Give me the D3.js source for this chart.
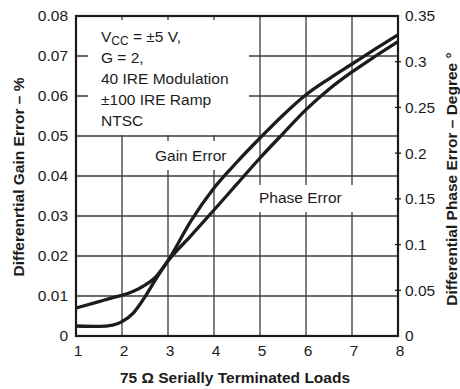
<!DOCTYPE html>
<html>
<head>
<meta charset="utf-8">
<script src="https://cdn.jsdelivr.net/npm/d3@7"></script>
<style>
  html, body { margin: 0; padding: 0; background: #fff; }
  svg { display: block; font-family: "Liberation Sans", Arial, sans-serif; }
</style>
</head>
<body>
<svg id="chart" width="460" height="389"></svg>
<script>
// Number of 75-ohm serially terminated loads
const loads = [1, 1.5, 1.8, 2, 2.25, 2.5, 2.75, 3, 3.5, 4, 4.5, 5, 5.5, 6, 6.5, 7, 7.5, 8];
// Differential gain error, % (left axis)
const gainError = [0.0025, 0.0024, 0.0027, 0.0036, 0.0058, 0.0098, 0.0145, 0.0188, 0.0288, 0.0370,
                   0.0435, 0.0495, 0.0552, 0.0603, 0.0643, 0.0680, 0.0717, 0.0753];
// Differential phase error, degrees (right axis)
const phaseError = [0.0306, 0.0376, 0.0420, 0.0446, 0.0490, 0.0556, 0.0656, 0.0823, 0.1098, 0.1378,
                    0.1663, 0.1947, 0.2214, 0.2476, 0.2699, 0.2888, 0.3058, 0.3220];

const xTicks = [1, 2, 3, 4, 5, 6, 7, 8];
const gainTicks = [0, 0.01, 0.02, 0.03, 0.04, 0.05, 0.06, 0.07, 0.08];
const gainTickLabels = ["0", "0.01", "0.02", "0.03", "0.04", "0.05", "0.06", "0.07", "0.08"];
const phaseTicks = [0, 0.05, 0.1, 0.15, 0.2, 0.25, 0.3, 0.35];
const phaseTickLabels = ["0", "0.05", "0.1", "0.15", "0.2", "0.25", "0.3", "0.35"];

const conditions = ["G = 2,", "40 IRE Modulation", "±100 IRE Ramp", "NTSC"];

const svg = d3.select("#chart");
const m = { left: 76, right: 398, top: 16, bottom: 336 };

const x = d3.scaleLinear().domain([1, 8]).range([m.left, m.right]);
const yGain = d3.scaleLinear().domain([0, 0.08]).range([m.bottom, m.top]);
const yPhase = d3.scaleLinear().domain([0, 0.35]).range([m.bottom, m.top]);

const gridColor = "#3a3a3a";
const ink = "#1c1c1c";

// grid
const grid = svg.append("g").attr("stroke", gridColor).attr("stroke-width", 1.3);
grid.selectAll("line.v").data(xTicks.slice(1, -1)).join("line")
  .attr("class", "v")
  .attr("x1", d => x(d)).attr("x2", d => x(d))
  .attr("y1", m.top).attr("y2", m.bottom);
grid.selectAll("line.h").data(gainTicks.slice(1, -1)).join("line")
  .attr("class", "h")
  .attr("x1", m.left).attr("x2", m.right)
  .attr("y1", d => yGain(d)).attr("y2", d => yGain(d));

// white panels behind the annotations
const panels = [
  { x0: 88, y0: 20, x1: 249, y1: 135 },
  { x0: 146, y0: 141, x1: 240, y1: 170 },
  { x0: 251, y0: 185, x1: 364, y1: 212 }
];
svg.append("g").selectAll("rect").data(panels).join("rect")
  .attr("x", d => d.x0).attr("y", d => d.y0)
  .attr("width", d => d.x1 - d.x0).attr("height", d => d.y1 - d.y0)
  .attr("fill", "#fff");

// frame
svg.append("rect")
  .attr("x", m.left).attr("y", m.top)
  .attr("width", m.right - m.left).attr("height", m.bottom - m.top)
  .attr("fill", "none").attr("stroke", ink).attr("stroke-width", 2.2);

// right axis cross ticks
svg.append("g").selectAll("line").data(phaseTicks.slice(1, -1)).join("line")
  .attr("x1", m.right - 3).attr("x2", m.right + 3)
  .attr("y1", d => yPhase(d)).attr("y2", d => yPhase(d))
  .attr("stroke", ink).attr("stroke-width", 1.3);

// curves
const gainLine = d3.line().x((d, i) => x(loads[i])).y(d => yGain(d)).curve(d3.curveMonotoneX);
const phaseLine = d3.line().x((d, i) => x(loads[i])).y(d => yPhase(d)).curve(d3.curveMonotoneX);
svg.append("path").datum(phaseError).attr("d", phaseLine)
  .attr("fill", "none").attr("stroke", ink).attr("stroke-width", 3.3).attr("stroke-linejoin", "round");
svg.append("path").datum(gainError).attr("d", gainLine)
  .attr("fill", "none").attr("stroke", ink).attr("stroke-width", 3.3).attr("stroke-linejoin", "round");

// axes labels
const tickFont = 15.5;
const leftAxis = d3.axisLeft(yGain).tickValues(gainTicks)
  .tickFormat((d, i) => gainTickLabels[i]).tickSize(0).tickPadding(8);
const gL = svg.append("g").attr("transform", `translate(${m.left},0)`).call(leftAxis);
const rightAxis = d3.axisRight(yPhase).tickValues(phaseTicks)
  .tickFormat((d, i) => phaseTickLabels[i]).tickSize(0).tickPadding(7);
const gR = svg.append("g").attr("transform", `translate(${m.right},0)`).call(rightAxis);
const bottomAxis = d3.axisBottom(x).tickValues(xTicks).tickFormat(d3.format("d")).tickSize(0).tickPadding(9);
const gB = svg.append("g").attr("transform", `translate(1.5,${m.bottom})`).call(bottomAxis);
[gL, gR, gB].forEach(g => {
  g.select(".domain").remove();
  g.selectAll("text").attr("font-size", tickFont).attr("fill", ink)
    .attr("font-family", "Liberation Sans, Arial, sans-serif");
});

// axis titles
svg.append("text")
  .attr("transform", `translate(${(m.left + m.right) / 2 - 2},383)`)
  .attr("text-anchor", "middle").attr("font-size", 15.5).attr("font-weight", "bold").attr("fill", ink)
  .text("75 Ω Serially Terminated Loads");
svg.append("text")
  .attr("transform", `translate(24,${(m.top + m.bottom) / 2 + 1}) rotate(-90)`)
  .attr("text-anchor", "middle").attr("font-size", 15.5).attr("font-weight", "bold").attr("fill", ink)
  .text("Differenrtial Gain Error – %");
svg.append("text")
  .attr("transform", `translate(457,${(m.top + m.bottom) / 2 + 3}) rotate(-90)`)
  .attr("text-anchor", "middle").attr("font-size", 15.5).attr("font-weight", "bold").attr("fill", ink)
  .text("Differential Phase Error – Degree °");

// conditions block
const cond = svg.append("g").attr("font-size", 15.5).attr("fill", ink);
const vcc = cond.append("text").attr("x", 101).attr("y", 42);
vcc.append("tspan").text("V");
vcc.append("tspan").attr("font-size", 12).attr("dy", 3).text("CC");
vcc.append("tspan").attr("dy", -3).text(" = ±5 V,");
cond.selectAll("text.line").data(conditions).join("text")
  .attr("class", "line")
  .attr("x", 101).attr("y", (d, i) => 63 + i * 21)
  .text(d => d);

// series labels
svg.append("text").attr("x", 155).attr("y", 161).attr("font-size", 15.5).attr("fill", ink).text("Gain Error");
svg.append("text").attr("x", 259).attr("y", 203).attr("font-size", 15.5).attr("fill", ink).text("Phase Error");
</script>
</body>
</html>
